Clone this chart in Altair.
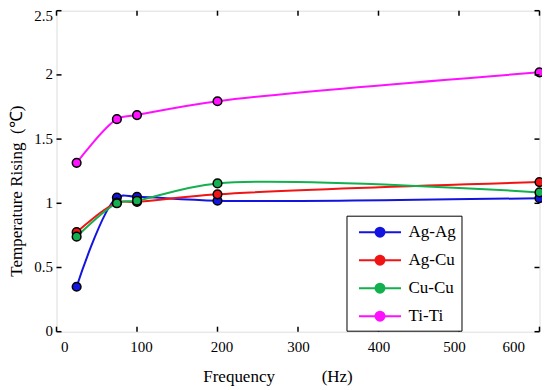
import altair as alt
import pandas as pd

freq = [25, 75, 100, 200, 600]
series = ["Ag-Ag", "Ag-Cu", "Cu-Cu", "Ti-Ti"]
ag_ag = [0.35, 1.045, 1.05, 1.02, 1.04]
ag_cu = [0.775, 1.005, 1.01, 1.07, 1.165]
cu_cu = [0.74, 1.0, 1.02, 1.155, 1.085]
ti_ti = [1.315, 1.655, 1.687, 1.795, 2.02]
colors = ["#1414e0", "#f01414", "#12b04e", "#ff10ff"]
x_ticks = [0, 100, 200, 300, 400, 500, 600]
y_ticks = [0, 0.5, 1, 1.5, 2, 2.5]

rows = []
for name, vals in zip(series, [ag_ag, ag_cu, cu_cu, ti_ti]):
    for f, v in zip(freq, vals):
        rows.append({"freq": f, "temp": v, "series": name})
df = pd.DataFrame(rows)
xt = pd.DataFrame({"freq": x_ticks})
yt = pd.DataFrame({"temp": y_ticks})

W, H = 483, 321
FONT = "Liberation Serif, Times New Roman, serif"

x_axis = alt.Axis(values=x_ticks, tickSize=0, domain=False, grid=False,
                  labelFont=FONT, labelFontSize=15, labelPadding=8, labelColor="black",
                  labelOffset={"condition": [
                      {"test": "datum.value >= 550", "value": -15},
                      {"test": "datum.value == 500", "value": -5},
                      {"test": "datum.value <= 200", "value": 4}],
                      "value": 0},
                  title="Frequency\u00a0\u00a0\u00a0\u00a0\u00a0\u00a0\u00a0\u00a0\u00a0\u00a0\u00a0(Hz)",
                  titleFont=FONT, titleFontSize=17, titleFontWeight="normal",
                  titleX=221, titleY=50, titleBaseline="alphabetic", titleColor="black")
y_axis = alt.Axis(values=y_ticks, tickSize=0, domain=False, grid=False, format="~g",
                  labelFont=FONT, labelFontSize=15, labelPadding=4, labelColor="black",
                  labelOffset={"condition": {"test": "datum.value == 2.5", "value": 5},
                               "value": -1},
                  title="Temperature Rising\u00a0\u00a0(\u2103)",
                  titleFont=FONT, titleFontSize=17, titleFontWeight="normal",
                  titleAngle=-90, titleX=-40, titleY=180, titleBaseline="middle",
                  titleAlign="center", titleColor="black")

X = alt.X("freq:Q", scale=alt.Scale(domain=[0, 600], nice=False), axis=x_axis)
Y = alt.Y("temp:Q", scale=alt.Scale(domain=[0, 2.5], nice=False), axis=y_axis)

legend = alt.Legend(
    title=None, orient="none", legendX=290, legendY=205,
    fillColor="white", strokeColor="black", padding=5,
    symbolType="M-2,0L-0.43,0M0.43,0L2,0M-0.43,0A0.43,0.43,0,1,1,0.43,0A0.43,0.43,0,1,1,-0.43,0",
    symbolSize=441, symbolStrokeWidth=2, symbolOpacity=1, symbolOffset=17,
    labelFont=FONT, labelFontSize=17, labelColor="black", labelOffset=17,
    labelExpr="datum.label + '\u00a0\u00a0'",
    rowPadding=7,
)
C = alt.Color("series:N", scale=alt.Scale(domain=series, range=colors), legend=legend)

lines = alt.Chart(df).mark_line(strokeWidth=2, interpolate="catmull-rom").encode(
    x=X, y=Y, color=C)
points = alt.Chart(df).mark_point(filled=True, size=75, stroke="black",
                                  strokeWidth=1.5, opacity=1).encode(x=X, y=Y, color=C)

tick_top = alt.Chart(xt).mark_rule(color="black", strokeWidth=1.5).encode(
    x=X, y=alt.value(0), y2=alt.value(5))
tick_bot = alt.Chart(xt).mark_rule(color="black", strokeWidth=1.5).encode(
    x=X, y=alt.value(H), y2=alt.value(H - 5))
tick_left = alt.Chart(yt).mark_rule(color="black", strokeWidth=1.5).encode(
    y=Y, x=alt.value(0), x2=alt.value(5))
tick_right = alt.Chart(yt).mark_rule(color="black", strokeWidth=1.5).encode(
    y=Y, x=alt.value(W), x2=alt.value(W - 5))

chart = alt.layer(lines, points, tick_top, tick_bot, tick_left, tick_right).properties(
    width=W, height=H,
    autosize=alt.AutoSizeParams(type="none"),
    padding={"left": 48.5, "top": 2.7, "right": 2, "bottom": 56},
).configure_view(stroke="black", strokeWidth=1.5).configure(background="white")

chart.save("out.html", embed_options={"renderer": "svg", "actions": False})
